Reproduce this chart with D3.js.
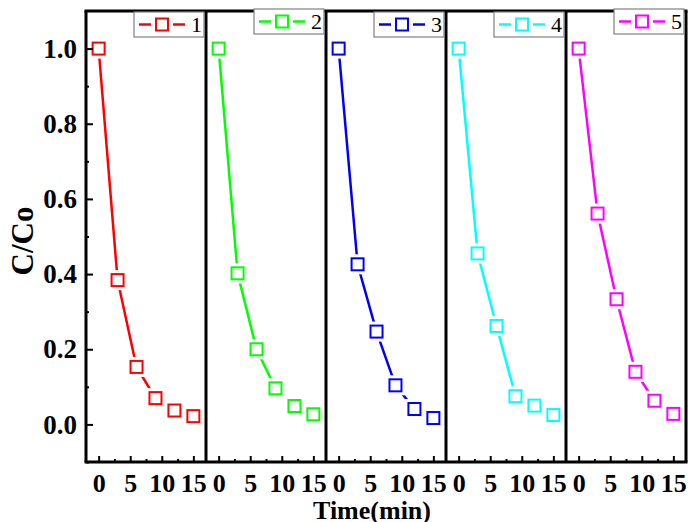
<!DOCTYPE html>
<html>
<head>
<meta charset="utf-8">
<script src="https://cdn.jsdelivr.net/npm/d3@7"></script>
<style>
  body { margin: 0; background: #fff; }
  svg { display: block; }
  svg text { font-family: "Liberation Serif", "Times New Roman", serif; }
</style>
</head>
<body>
<svg id="chart" width="690" height="522"></svg>
<script>
// data
const times = [0, 3, 6, 9, 12, 15];
const seriesNames = ['1', '2', '3', '4', '5'];
const seriesColors = ['#ff0000', '#00ff00', '#0000ff', '#00ffff', '#ff00ff'];
const s1 = [1.0, 0.384, 0.153, 0.070, 0.037, 0.022];
const s2 = [1.0, 0.402, 0.200, 0.096, 0.049, 0.027];
const s3 = [1.0, 0.426, 0.247, 0.104, 0.041, 0.017];
const s4 = [1.0, 0.455, 0.262, 0.075, 0.050, 0.025];
const s5 = [1.0, 0.561, 0.333, 0.140, 0.063, 0.028];
const seriesValues = [s1, s2, s3, s4, s5];
const xTicks = [0, 5, 10, 15];
const xMinor = [2.5, 7.5, 12.5];
const yTicks = [0, 0.2, 0.4, 0.6, 0.8, 1.0];
const yMinor = [-0.1, 0.1, 0.3, 0.5, 0.7, 0.9];

const svg = d3.select('#chart');
const plotTop = 11, plotBottom = 462;

// panels side by side
const panel = d3.scaleBand().domain(d3.range(5)).range([86, 686]).paddingInner(0);
const y = d3.scaleLinear().domain([-0.1, 1.1]).range([plotBottom, plotTop]);
const legendTop = [12, 9, 12, 12, 9];

seriesValues.forEach((vals, i) => {
  const x0 = panel(i), w = panel.bandwidth();
  const x = d3.scaleLinear().domain([-2, 17]).range([x0, x0 + w]);
  const color = seriesColors[i];
  const g = svg.append('g');
  const pts = times.map((t, k) => [t, vals[k]]);

  // line
  g.append('path')
    .datum(pts)
    .attr('fill', 'none')
    .attr('stroke', color)
    .attr('stroke-width', 2.5)
    .attr('d', d3.line().x(d => x(d[0])).y(d => y(d[1])));

  // white halo gives origin-style gaps around markers
  g.selectAll('rect.halo').data(pts).enter().append('rect')
    .attr('class', 'halo')
    .attr('x', d => x(d[0]) - 10).attr('y', d => y(d[1]) - 10)
    .attr('width', 20).attr('height', 20)
    .attr('fill', '#fff');
  g.selectAll('rect.mk').data(pts).enter().append('rect')
    .attr('class', 'mk')
    .attr('x', d => x(d[0]) - 6).attr('y', d => y(d[1]) - 6)
    .attr('width', 12).attr('height', 12)
    .attr('fill', 'none')
    .attr('stroke', color)
    .attr('stroke-width', 2);

  // bottom axis, ticks inward
  const ax = svg.append('g').attr('transform', `translate(0,${plotBottom})`)
    .call(d3.axisBottom(x).tickValues(xTicks).tickSize(-6).tickPadding(12).tickFormat(d3.format('d')));
  ax.select('.domain').remove();
  ax.selectAll('.tick line').attr('stroke-width', 2);
  ax.selectAll('text').style('font-size', '26px').style('font-weight', 'bold')
    .attr('fill', '#000').attr('dy', '0.71em');
  const axm = svg.append('g').attr('transform', `translate(0,${plotBottom})`)
    .call(d3.axisBottom(x).tickValues(xMinor).tickSize(-3).tickFormat(''));
  axm.select('.domain').remove();
  axm.selectAll('.tick line').attr('stroke-width', 2);

  // legend
  const lx = x0 + w - 72, ly = legendTop[i];
  const lg = svg.append('g').attr('class', 'legend');
  lg.append('rect').attr('x', lx).attr('y', ly).attr('width', 70).attr('height', 25)
    .attr('fill', '#fff').attr('stroke', '#808080').attr('stroke-width', 1.2);
  lg.append('line').attr('x1', lx + 5).attr('x2', lx + 17).attr('y1', ly + 12.5).attr('y2', ly + 12.5)
    .attr('stroke', color).attr('stroke-width', 2.5);
  lg.append('line').attr('x1', lx + 39).attr('x2', lx + 51).attr('y1', ly + 12.5).attr('y2', ly + 12.5)
    .attr('stroke', color).attr('stroke-width', 2.5);
  lg.append('rect').attr('x', lx + 22).attr('y', ly + 6.5).attr('width', 12).attr('height', 12)
    .attr('fill', 'none').attr('stroke', color).attr('stroke-width', 2);
  lg.append('text').attr('x', lx + 57).attr('y', ly + 20)
    .style('font-size', '22px').text(seriesNames[i]);
});

// left axis on first panel
const ay = svg.append('g').attr('transform', `translate(${panel(0)},0)`)
  .call(d3.axisLeft(y).tickValues(yTicks).tickSize(-7).tickPadding(9).tickFormat(d3.format('.1f')));
ay.select('.domain').remove();
ay.selectAll('.tick line').attr('stroke-width', 2);
ay.selectAll('text').style('font-size', '27px').style('font-weight', 'bold').attr('fill', '#000');
const aym = svg.append('g').attr('transform', `translate(${panel(0)},0)`)
  .call(d3.axisLeft(y).tickValues(yMinor).tickSize(-3).tickFormat(''));
aym.select('.domain').remove();
aym.selectAll('.tick line').attr('stroke-width', 2);

// frame and panel separators
const frame = svg.append('g').attr('stroke', '#000').attr('fill', 'none');
frame.append('line').attr('x1', panel(0) - 1.5).attr('x2', 687.5).attr('y1', plotTop).attr('y2', plotTop).attr('stroke-width', 3);
frame.append('line').attr('x1', panel(0) - 1.5).attr('x2', 687.5).attr('y1', plotBottom).attr('y2', plotBottom).attr('stroke-width', 3);
d3.range(6).forEach(k => {
  const xx = k < 5 ? panel(k) : panel(4) + panel.bandwidth();
  frame.append('line').attr('x1', xx).attr('x2', xx).attr('y1', plotTop).attr('y2', plotBottom).attr('stroke-width', 3);
});
// legends sit above the frame
svg.selectAll('g.legend').raise();

// axis titles
svg.append('text')
  .attr('transform', 'translate(33,241) rotate(-90)')
  .attr('text-anchor', 'middle')
  .style('font-size', '31px').style('font-weight', 'bold')
  .text('C/Co');
svg.append('text')
  .attr('x', 372).attr('y', 519)
  .attr('text-anchor', 'middle')
  .style('font-size', '26px').style('font-weight', 'bold')
  .text('Time(min)');
</script>
</body>
</html>
